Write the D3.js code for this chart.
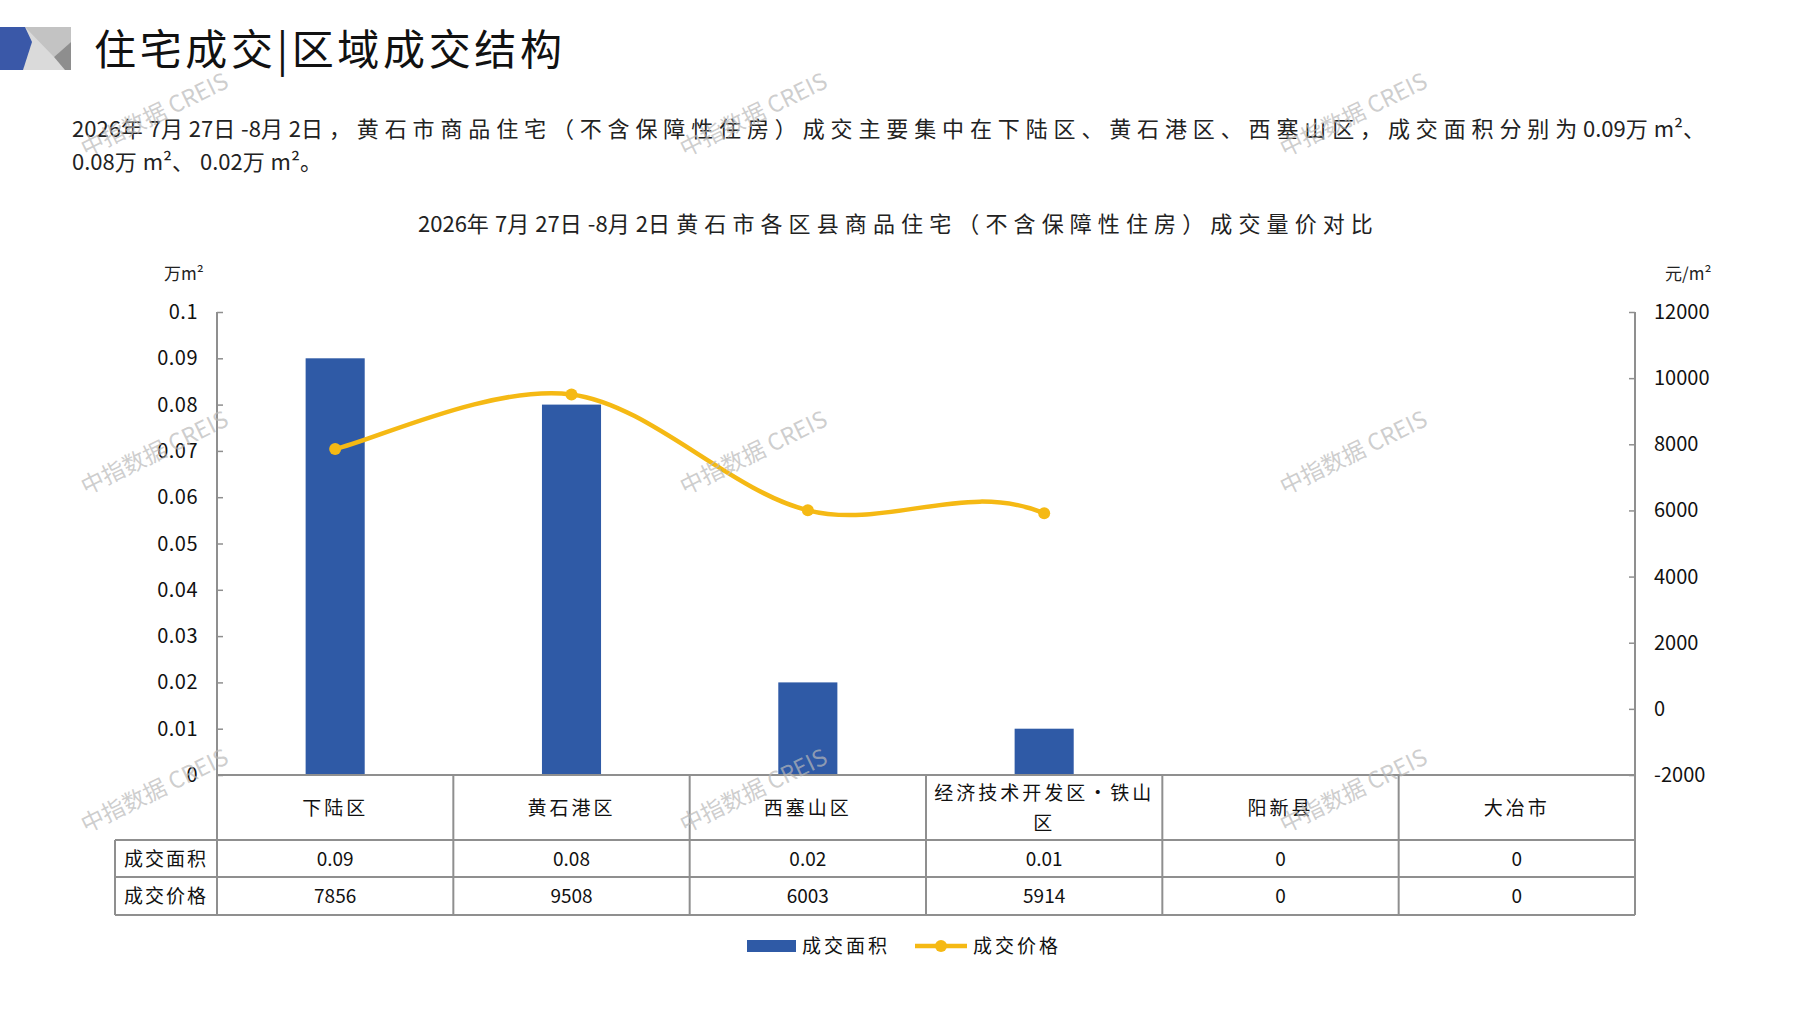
<!DOCTYPE html>
<html>
<head>
<meta charset="utf-8">
<script src="https://cdn.jsdelivr.net/npm/d3@7"></script>
<style>
  body { margin: 0; background: #fff; }
  svg { display: block; font-family: "Noto Sans CJK SC", "Noto Sans", sans-serif; }
</style>
</head>
<body>
<div id="chart"></div>
<script>
// data
var categories = ["下陆区", "黄石港区", "西塞山区", "经济技术开发区·铁山区", "阳新县", "大冶市"];
var areaValues = [0.09, 0.08, 0.02, 0.01, 0, 0];
var priceValues = [7856, 9508, 6003, 5914, 0, 0];
var areaTicks = [0, 0.01, 0.02, 0.03, 0.04, 0.05, 0.06, 0.07, 0.08, 0.09, 0.1];
var priceTicks = [-2000, 0, 2000, 4000, 6000, 8000, 10000, 12000];
var areaLabels = ["0.09", "0.08", "0.02", "0.01", "0", "0"];
var seriesNames = ["成交面积", "成交价格"];

var W = 1797, H = 1010;
var blue = "#2f5aa6", yellow = "#f5b914", grid = "#8f8f8f";

var svg = d3.select("#chart").append("svg")
    .attr("width", W)
    .attr("height", H);

// text helper: CJK runs get extra spacing, digits/latin stay tight
var cjk = /[\u3000-\u9fff\uff00-\uffef\u00b7]/;
function spacedText(t, str, targetWidth) {
    var runs = [], cur = "", curC = null;
    str.split("").forEach(function (ch) {
        var c = cjk.test(ch);
        if (curC !== null && c !== curC) { runs.push({ s: cur, c: curC }); cur = ""; }
        cur += ch; curC = c;
    });
    runs.push({ s: cur, c: curC });
    var spans = runs.map(function (r) { return t.append("tspan").text(r.s).datum(r); });
    var natural = t.node().getComputedTextLength();
    var nC = str.split("").filter(function (ch) { return cjk.test(ch); }).length;
    var sp = (targetWidth - natural) / nC;
    spans.forEach(function (s) { if (s.datum().c) s.attr("letter-spacing", sp); });
    return sp;
}
function spacedFixed(t, str, sp) {
    var runs = [], cur = "", curC = null;
    str.split("").forEach(function (ch) {
        var c = cjk.test(ch);
        if (curC !== null && c !== curC) { runs.push({ s: cur, c: curC }); cur = ""; }
        cur += ch; curC = c;
    });
    runs.push({ s: cur, c: curC });
    runs.forEach(function (r) {
        var s = t.append("tspan").text(r.s);
        if (r.c) s.attr("letter-spacing", sp);
    });
}

// logo block
var logo = svg.append("g");
logo.append("rect").attr("x", 0).attr("y", 27).attr("width", 71).attr("height", 43).attr("fill", "#dadada");
logo.append("polygon").attr("points", "25,27 71,27 71,42 54,57").attr("fill", "#c3c3c3");
logo.append("polygon").attr("points", "54,57 71,42 71,70 65,70").attr("fill", "#8e8e8e");
logo.append("polygon").attr("points", "0,27 25,27 32,42 23,70 0,70").attr("fill", "#3a58a8");

svg.append("text")
    .attr("x", 94).attr("y", 65)
    .attr("font-size", 42)
    .attr("textLength", 468)
    .attr("lengthAdjust", "spacing")
    .attr("fill", "#111")
    .text("住宅成交|区域成交结构");

// paragraph
var p1 = svg.append("text")
    .attr("x", 72).attr("y", 137)
    .attr("font-size", 22)
    .attr("fill", "#222");
var sp = spacedText(p1, "2026年7月27日-8月2日，黄石市商品住宅（不含保障性住房）成交主要集中在下陆区、黄石港区、西塞山区，成交面积分别为0.09万m²、", 1639);
var p2 = svg.append("text")
    .attr("x", 72).attr("y", 170)
    .attr("font-size", 22)
    .attr("fill", "#222");
spacedFixed(p2, "0.08万m²、0.02万m²。", sp);

// chart title
var ct = svg.append("text")
    .attr("x", 418).attr("y", 232)
    .attr("font-size", 22)
    .attr("fill", "#222");
spacedText(ct, "2026年7月27日-8月2日黄石市各区县商品住宅（不含保障性住房）成交量价对比", 961);

// scales
var x0 = 217, x1 = 1635, yTop = 312, yBase = 775;
var x = d3.scaleBand().domain(categories).range([x0, x1]).padding(0);
var yL = d3.scaleLinear().domain([0, 0.1]).range([yBase, yTop]);
var yR = d3.scaleLinear().domain([-2000, 12000]).range([yBase, yTop]);
function cx(i) { return x(categories[i]) + x.bandwidth() / 2; }

// axes
var axL = svg.append("g").attr("transform", "translate(" + x0 + ",0)")
    .call(d3.axisRight(yL).tickValues(areaTicks).tickSize(6).tickFormat(""));
axL.select(".domain").remove();
axL.selectAll(".tick line").attr("stroke", grid).attr("stroke-width", 1.5);
svg.selectAll(".lt").data(areaTicks).enter().append("text")
    .attr("x", 198).attr("y", function (d) { return yL(d) + 7; })
    .attr("text-anchor", "end")
    .attr("font-size", 20)
    .attr("letter-spacing", 0.5)
    .attr("fill", "#111")
    .text(function (d) { return String(+d.toFixed(2)); });

var axR = svg.append("g").attr("transform", "translate(" + x1 + ",0)")
    .call(d3.axisLeft(yR).tickValues(priceTicks).tickSize(6).tickFormat(""));
axR.select(".domain").remove();
axR.selectAll(".tick line").attr("stroke", grid).attr("stroke-width", 1.5);
svg.selectAll(".rt").data(priceTicks).enter().append("text")
    .attr("x", 1654).attr("y", function (d) { return yR(d) + 7; })
    .attr("font-size", 20)
    .attr("fill", "#111")
    .text(function (d) { return d < 0 ? "-" + Math.abs(d) : d; });

svg.append("text").attr("x", 164).attr("y", 280).attr("font-size", 17).attr("fill", "#222").text("万m²");
svg.append("text").attr("x", 1665).attr("y", 280).attr("font-size", 17).attr("fill", "#222").text("元/m²");

// bars
var bw = x.bandwidth() * 0.25;
svg.selectAll(".bar").data(areaValues).enter().append("rect")
    .attr("x", function (d, i) { return cx(i) - bw / 2; })
    .attr("y", function (d) { return yL(d); })
    .attr("width", bw)
    .attr("height", function (d) { return yBase - yL(d); })
    .attr("fill", blue);

// price line: smoothed like the spreadsheet, zero values are not drawn
// but still bend the curve at the last drawn point
var P = priceValues.map(function (v, i) { return [cx(i), yR(v)]; });
var last = d3.max(priceValues.map(function (v, i) { return v > 0 ? i : -1; }));
var path = d3.path();
path.moveTo(P[0][0], P[0][1]);
for (var i = 0; i < last; i++) {
    var a = P[i - 1] || P[i], b = P[i], c = P[i + 1], d = P[i + 2] || P[i + 1];
    path.bezierCurveTo(
        b[0] + (c[0] - a[0]) / 6, b[1] + (c[1] - a[1]) / 6,
        c[0] - (d[0] - b[0]) / 6, c[1] - (d[1] - b[1]) / 6,
        c[0], c[1]);
}
svg.append("path")
    .attr("d", path.toString())
    .attr("fill", "none")
    .attr("stroke", yellow)
    .attr("stroke-width", 4.5);
svg.selectAll(".pt").data(priceValues.filter(function (v) { return v > 0; })).enter().append("circle")
    .attr("cx", function (d, i) { return cx(i); })
    .attr("cy", function (d) { return yR(d); })
    .attr("r", 6)
    .attr("fill", yellow);

// data table
var rows = [yBase, 840, 877, 915];
var tLeft = 115;
var tg = svg.append("g").attr("stroke", grid).attr("stroke-width", 2);
tg.append("line").attr("x1", x0).attr("x2", x1).attr("y1", yBase).attr("y2", yBase);
rows.slice(1).forEach(function (y) {
    tg.append("line").attr("x1", tLeft).attr("x2", x1).attr("y1", y).attr("y2", y);
});
tg.append("line").attr("x1", tLeft).attr("x2", tLeft).attr("y1", rows[1]).attr("y2", rows[3]);
tg.append("line").attr("x1", x0).attr("x2", x0).attr("y1", yTop).attr("y2", rows[3]);
tg.append("line").attr("x1", x1).attr("x2", x1).attr("y1", yTop).attr("y2", rows[3]);
categories.forEach(function (c, i) {
    if (i > 0) tg.append("line").attr("x1", x(c)).attr("x2", x(c)).attr("y1", yBase).attr("y2", rows[3]);
});

// header cells, wrapped to cell width
categories.forEach(function (c, i) {
    var t = svg.append("text").attr("x", cx(i)).attr("text-anchor", "middle")
        .attr("font-size", 19).attr("letter-spacing", 3).attr("fill", "#111");
    var chars = c.split(""), lines = [], cur = "";
    var probe = t.append("tspan");
    chars.forEach(function (ch) {
        probe.text(cur + ch);
        if (probe.node().getComputedTextLength() > x.bandwidth() - 14 && cur) {
            lines.push(cur); cur = ch;
        } else cur += ch;
    });
    lines.push(cur);
    probe.remove();
    var y0 = (rows[0] + rows[1]) / 2 + 7 - (lines.length - 1) * 15;
    lines.forEach(function (l, k) {
        t.append("tspan").attr("x", cx(i)).attr("y", y0 + k * 30).text(l);
    });
});

svg.selectAll(".rl").data(seriesNames).enter().append("text")
    .attr("x", 166).attr("y", function (d, i) { return (rows[i + 1] + rows[i + 2]) / 2 + 7; })
    .attr("text-anchor", "middle")
    .attr("font-size", 19).attr("letter-spacing", 2).attr("fill", "#111")
    .text(function (d) { return d; });

svg.selectAll(".av").data(areaLabels).enter().append("text")
    .attr("x", function (d, i) { return cx(i); })
    .attr("y", (rows[1] + rows[2]) / 2 + 7)
    .attr("text-anchor", "middle").attr("font-size", 19).attr("fill", "#111")
    .text(function (d) { return d; });
svg.selectAll(".pv").data(priceValues).enter().append("text")
    .attr("x", function (d, i) { return cx(i); })
    .attr("y", (rows[2] + rows[3]) / 2 + 7)
    .attr("text-anchor", "middle").attr("font-size", 19).attr("fill", "#111")
    .text(function (d) { return d; });

// legend
var lg = svg.append("g");
lg.append("rect").attr("x", 747).attr("y", 940).attr("width", 49).attr("height", 12).attr("fill", blue);
lg.append("text").attr("x", 802).attr("y", 953).attr("font-size", 19).attr("letter-spacing", 3).attr("fill", "#111").text(seriesNames[0]);
lg.append("line").attr("x1", 915).attr("x2", 967).attr("y1", 946).attr("y2", 946).attr("stroke", yellow).attr("stroke-width", 4.5);
lg.append("circle").attr("cx", 941).attr("cy", 946).attr("r", 6).attr("fill", yellow);
lg.append("text").attr("x", 973).attr("y", 953).attr("font-size", 19).attr("letter-spacing", 3).attr("fill", "#111").text(seriesNames[1]);

// watermarks
var wmX = [158, 757, 1357], wmY = [122, 460, 798];
wmY.forEach(function (wy) {
    wmX.forEach(function (wx) {
        svg.append("text")
            .attr("transform", "translate(" + wx + "," + wy + ") rotate(-26)")
            .attr("text-anchor", "middle")
            .attr("font-size", 23)
            .attr("fill", "#b8b8b8")
            .attr("fill-opacity", 0.7)
            .text("中指数据 CREIS");
    });
});
</script>
</body>
</html>
